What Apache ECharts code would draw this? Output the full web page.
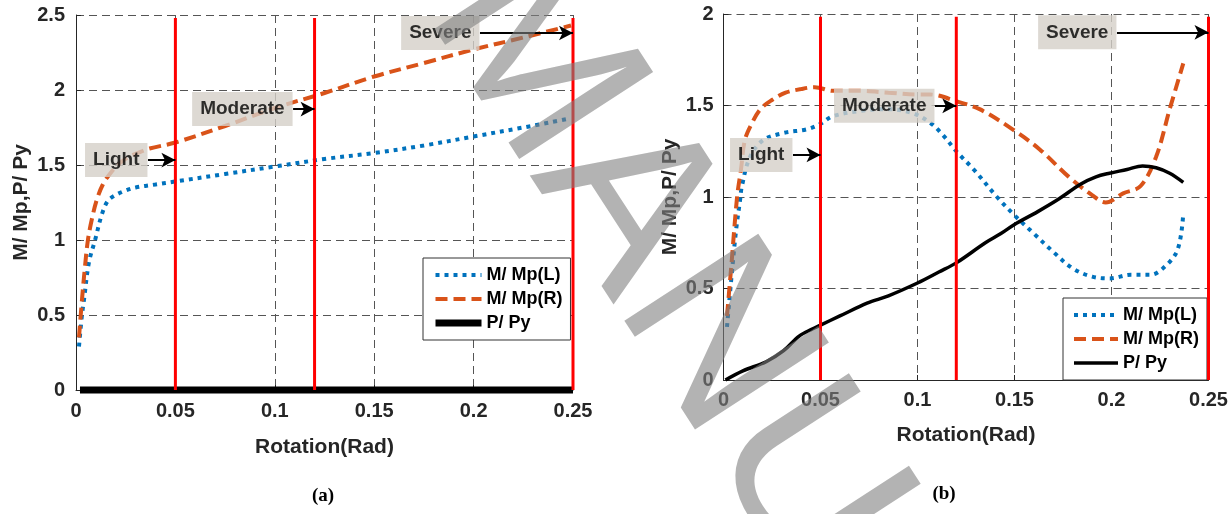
<!DOCTYPE html>
<html>
<head>
<meta charset="utf-8">
<script src="https://cdn.jsdelivr.net/npm/echarts@6/dist/echarts.min.js"></script>
<style>
html,body{margin:0;padding:0;background:#fff;}
#chart{width:1231px;height:514px;}
</style>
</head>
<body>
<div id="chart"></div>
<script>
// ---------- data ----------
const xTicks = [0, 0.05, 0.1, 0.15, 0.2, 0.25];

// (a)
const aLx = [0.0015,0.003,0.004,0.0065,0.0096,0.013,0.016,0.02,0.025,0.03,0.04,0.05,0.075,0.1,0.125,0.15,0.175,0.2,0.225,0.2485];
const aLy = [0.29,0.5,0.6,0.85,1.0,1.17,1.26,1.3,1.33,1.35,1.37,1.39,1.44,1.49,1.54,1.58,1.63,1.69,1.75,1.81];
const aRx = [0.0015,0.003,0.0045,0.006,0.008,0.0105,0.0135,0.017,0.021,0.026,0.031,0.037,0.05,0.075,0.1,0.125,0.15,0.175,0.2,0.225,0.249];
const aRy = [0.35,0.6,0.82,1.0,1.14,1.27,1.37,1.44,1.5,1.55,1.58,1.61,1.65,1.76,1.88,1.98,2.09,2.18,2.27,2.35,2.43];
const aPx = [0.002,0.25];
const aPy = [0,0];

// (b)
const bLx = [0.0018,0.004,0.0065,0.0085,0.0095,0.0137,0.0204,0.031,0.043,0.05,0.056,0.07,0.085,0.097,0.106,0.113,0.12,0.129,0.141,0.15,0.16,0.17,0.18,0.19,0.199,0.21,0.22,0.2265,0.234,0.237];
const bLy = [0.29,0.55,0.82,0.98,1.06,1.22,1.31,1.35,1.37,1.40,1.44,1.47,1.48,1.46,1.41,1.34,1.25,1.15,1.0,0.9,0.8,0.7,0.61,0.565,0.555,0.575,0.575,0.61,0.71,0.91];
const bRx = [0.0018,0.004,0.007,0.009,0.011,0.0145,0.019,0.025,0.032,0.04,0.047,0.0565,0.07,0.085,0.1,0.1064,0.121,0.132,0.149,0.163,0.178,0.19,0.197,0.206,0.215,0.223,0.23,0.237];
const bRy = [0.35,0.62,1.0,1.15,1.31,1.4,1.48,1.53,1.57,1.59,1.6,1.58,1.58,1.57,1.56,1.56,1.52,1.48,1.37,1.26,1.11,1.01,0.97,1.02,1.06,1.22,1.48,1.73];
const bPx = [0.001,0.01,0.022,0.031,0.039,0.046,0.05,0.06,0.074,0.085,0.1,0.111,0.12,0.135,0.143,0.15,0.162,0.173,0.184,0.192,0.199,0.208,0.216,0.223,0.23,0.237];
const bPy = [0,0.05,0.10,0.16,0.24,0.28,0.30,0.35,0.42,0.46,0.53,0.59,0.64,0.75,0.80,0.85,0.92,0.99,1.07,1.11,1.13,1.15,1.17,1.16,1.13,1.08];

// damage-state markers
const damageX = [0.05, 0.12, 0.25];
const damageTopA = 2.48;
const damageTopB = 1.985;
const annoLabels = ['Light', 'Moderate', 'Severe'];
const aAnnoStartX = [0.0362, 0.1092, 0.2032];
const aAnnoY = [1.533, 1.873, 2.38];
const bAnnoStartX = [0.0358, 0.109, 0.2028];
const bAnnoY = [1.23, 1.498, 1.9];

const seriesNames = ['M/ Mp(L)', 'M/ Mp(R)', 'P/ Py'];
// ---------- build ----------
const zip = (xs, ys) => xs.map((x, i) => [x, ys[i]]);
const BLUE = '#0072BD', ORANGE = '#D95319', RED = '#FF0000', AX = '#262626';
const FONT = 'Liberation Sans, Arial, sans-serif';

function xAxis(gridIndex, labelMargin, nameGap) {
  return {
    type: 'value', gridIndex, min: 0, max: 0.25, interval: 0.05,
    name: 'Rotation(Rad)', nameLocation: 'middle', nameGap,
    nameTextStyle: { fontFamily: FONT, fontWeight: 'bold', fontSize: 21, color: AX },
    axisLine: { show: true, onZero: false, lineStyle: { color: AX, width: 1 } },
    axisTick: { show: true, inside: true, length: 5, lineStyle: { color: AX } },
    axisLabel: { fontFamily: FONT, fontWeight: 'bold', fontSize: 20, color: AX, margin: labelMargin,
      formatter: v => String(+v.toFixed(2)) },
    splitLine: { show: true, lineStyle: { color: '#555', type: [8, 5], width: 1 } }
  };
}
function yAxis(gridIndex, max, labelMargin, nameGap) {
  return {
    type: 'value', gridIndex, min: 0, max, interval: 0.5,
    name: 'M/ Mp,P/ Py', nameLocation: 'middle', nameGap, nameRotate: 90,
    nameTextStyle: { fontFamily: FONT, fontWeight: 'bold', fontSize: 21, color: AX },
    axisLine: { show: true, onZero: false, lineStyle: { color: AX, width: 1 } },
    axisTick: { show: true, inside: true, length: 5, lineStyle: { color: AX } },
    axisLabel: { fontFamily: FONT, fontWeight: 'bold', fontSize: 20, color: AX, margin: labelMargin },
    splitLine: { show: true, lineStyle: { color: '#555', type: [8, 5], width: 1 } }
  };
}

function lineStyles(pWidth) {
  return [
    { color: BLUE, width: 4, type: [4, 5] },
    { color: ORANGE, width: 4, type: [12, 6] },
    { color: '#000', width: pWidth, type: 'solid' }
  ];
}

function curveSeries(tag, idx, xs, ys, pWidth) {
  const st = lineStyles(pWidth)[idx];
  return {
    name: seriesNames[idx] + '|' + tag, type: 'line',
    xAxisIndex: tag === 'a' ? 0 : 1, yAxisIndex: tag === 'a' ? 0 : 1,
    data: zip(xs, ys), showSymbol: false, symbol: 'none', smooth: 0.35,
    clip: false, lineStyle: st, itemStyle: { color: st.color },
    z: 3, silent: true
  };
}

function damageSeries(tag, top) {
  return damageX.map(x => ({
    type: 'line', xAxisIndex: tag === 'a' ? 0 : 1, yAxisIndex: tag === 'a' ? 0 : 1,
    data: [[x, 0], [x, top]], symbol: 'none', clip: false,
    lineStyle: { color: RED, width: 3 }, z: 4, silent: true
  }));
}

function annoSeries(tag, startX, ys) {
  return {
    type: 'scatter', xAxisIndex: tag === 'a' ? 0 : 1, yAxisIndex: tag === 'a' ? 0 : 1,
    symbolSize: 1, itemStyle: { color: 'rgba(0,0,0,0)' }, clip: false, z: 6, silent: true,
    data: startX.map((x, i) => ({ value: [x, ys[i]], label: { formatter: annoLabels[i] } })),
    label: {
      show: true, position: 'left', distance: 0,
      fontFamily: FONT, fontWeight: 'bold', fontSize: 19, color: '#000',
      backgroundColor: '#d4d0c8', padding: [8, 8, 7, 8]
    },
    markLine: {
      silent: true, symbol: ['none', 'arrow'], symbolSize: [11, 14],
      lineStyle: { color: '#000', width: 2, type: 'solid' },
      label: { show: false },
      data: startX.map((x, i) => [{ coord: [x, ys[i]] }, { coord: [damageX[i], ys[i]] }])
    }
  };
}

function legend(tag, left, top, pWidth, iconW) {
  const st = lineStyles(pWidth);
  return {
    left, top, orient: 'vertical', itemWidth: iconW, itemHeight: 14, itemGap: 6,
    padding: [8, 8, 8, 9], backgroundColor: '#fff', borderColor: '#333', borderWidth: 1,
    borderRadius: 0, selectedMode: false,
    textStyle: { fontFamily: FONT, fontWeight: 'bold', fontSize: 18, lineHeight: 18, color: '#000' },
    data: seriesNames.map((n, i) => ({
      name: n + '|' + tag,
      itemStyle: { opacity: 0 },
      lineStyle: { color: st[i].color, width: st[i].width, type: st[i].type, opacity: 1 }
    })),
    formatter: n => n.split('|')[0]
  };
}

const option = {
  animation: false,
  backgroundColor: '#fff',
  grid: [
    { left: 76, top: 15, width: 497, height: 375 },
    { left: 723.5, top: 14, width: 485, height: 366 }
  ],
  xAxis: [xAxis(0, 11, 47), xAxis(1, 10, 45)],
  yAxis: [yAxis(0, 2.5, 11, 44), yAxis(1, 2, 10, 43)],
  legend: [legend('a', 423, 258, 7, 46), legend('b', 1063, 298, 3.5, 44)],
  series: [
    curveSeries('a', 0, aLx, aLy, 7),
    curveSeries('a', 1, aRx, aRy, 7),
    curveSeries('a', 2, aPx, aPy, 7),
    curveSeries('b', 0, bLx, bLy, 3.5),
    curveSeries('b', 1, bRx, bRy, 3.5),
    curveSeries('b', 2, bPx, bPy, 3.5),
    ...damageSeries('a', damageTopA),
    ...damageSeries('b', damageTopB),
    annoSeries('a', aAnnoStartX, aAnnoY),
    annoSeries('b', bAnnoStartX, bAnnoY)
  ],
  graphic: [
    { type: 'text', x: 323, y: 496, z: 10, silent: true,
      style: { text: '(a)', fontFamily: 'Liberation Serif, Times New Roman, serif', fontWeight: 'bold', fontSize: 19,
               fill: '#000', textAlign: 'center', textVerticalAlign: 'middle' } },
    { type: 'text', x: 944, y: 494, z: 10, silent: true,
      style: { text: '(b)', fontFamily: 'Liberation Serif, Times New Roman, serif', fontWeight: 'bold', fontSize: 19,
               fill: '#000', textAlign: 'center', textVerticalAlign: 'middle' } },
    { type: 'text', x: 478, y: -22, rotation: -57 * Math.PI / 180, z: 100, silent: true,
      style: { text: 'MANUSCRIPT', fontFamily: FONT, fontSize: 232, fill: 'rgba(128,128,128,0.6)',
               textAlign: 'left', textVerticalAlign: 'middle' } }
  ]
};

const chart = echarts.init(document.getElementById('chart'), null, { renderer: 'canvas' });
chart.setOption(option);
</script>
</body>
</html>
